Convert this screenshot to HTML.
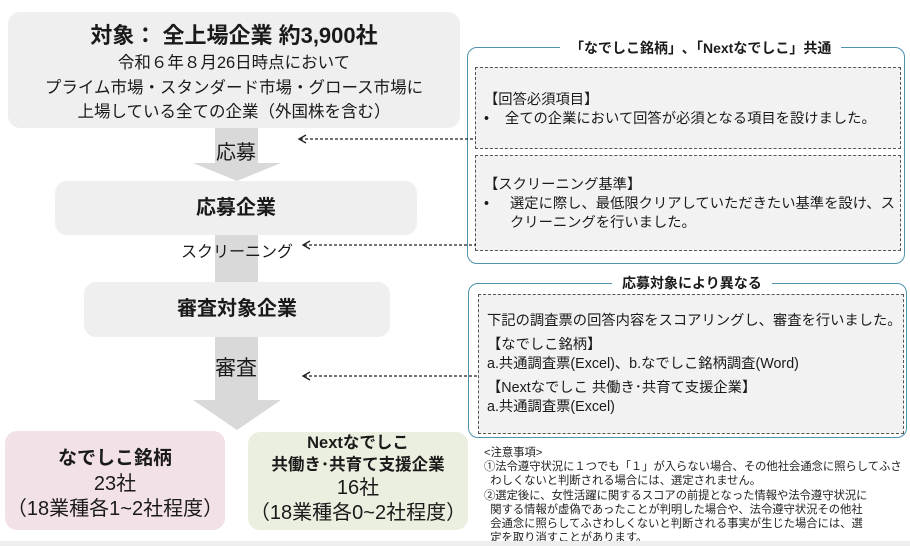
<!DOCTYPE html>
<html><head><meta charset="utf-8"><style>
body{margin:0;width:910px;height:546px;background:#fff;position:relative;overflow:hidden;font-family:"Liberation Sans","Noto Sans CJK JP",sans-serif;color:#1a1a1a}
.a{position:absolute}
.box{position:absolute;background:#efefef;border-radius:12px;text-align:center}
.c{text-align:center}
.dash{position:absolute;border:1px dashed #555;background:#f2f2f2}
.panel{position:absolute;border:1.5px solid #4f93ad;border-radius:10px}
.ttl{position:absolute;background:#fff;font-weight:bold;font-size:14px;padding:0 10px;white-space:nowrap}
.note{font-size:11.3px;line-height:14.2px;color:#222;white-space:nowrap}
</style></head><body>
<div class="a" style="left:215px;top:128px;width:43px;height:36px;background:#d9d9d9"></div>
<div class="a" style="left:193px;top:163px;width:0;height:0;border-left:44px solid transparent;border-right:44px solid transparent;border-top:18px solid #d9d9d9"></div>
<div class="a" style="left:215px;top:235px;width:43px;height:48px;background:#d9d9d9"></div>
<div class="a" style="left:215px;top:337px;width:43px;height:64px;background:#d9d9d9"></div>
<div class="a" style="left:193px;top:400px;width:0;height:0;border-left:44px solid transparent;border-right:44px solid transparent;border-top:30px solid #d9d9d9"></div>

<div class="box" style="left:8px;top:12px;width:452px;height:116px">
<div style="font-weight:bold;font-size:22px;margin-top:6px">対象： 全上場企業 約3,900社</div>
<div style="font-size:16.5px;line-height:24.5px;margin-top:1px">令和６年８月26日時点において<br>プライム市場・スタンダード市場・グロース市場に<br>上場している全ての企業（外国株を含む）</div>
</div>
<div class="a c" style="left:196px;top:136px;width:80px;font-size:20px">応募</div>
<div class="box" style="left:55px;top:181px;width:362px;height:54px;line-height:54px;font-weight:bold;font-size:20px">応募企業</div>
<div class="a c" style="left:170px;top:238px;width:134px;font-size:16px">スクリーニング</div>
<div class="box" style="left:84px;top:282px;width:306px;height:55px;line-height:55px;font-weight:bold;font-size:20px">審査対象企業</div>
<div class="a c" style="left:196px;top:352px;width:80px;font-size:21px">審査</div>

<div class="box" style="left:5px;top:431px;width:220px;height:99px;background:#f2e1e6">
<div style="font-weight:bold;font-size:19px;margin-top:12px">なでしこ銘柄</div>
<div style="font-size:20px;line-height:25px;margin-top:2px">23社<br>（18業種各1~2社程度）</div></div>
<div class="box" style="left:248px;top:432px;width:220px;height:98px;background:#ebefdf">
<div style="font-weight:bold;font-size:16.5px;line-height:22px;margin-top:0px">Nextなでしこ<br>共働き･共育て支援企業</div>
<div style="font-size:20px;line-height:25px">16社<br>（18業種各0~2社程度）</div></div>

<div class="panel" style="left:467px;top:47px;width:436px;height:215px"></div>
<div class="ttl" style="left:560px;top:38px">「なでしこ銘柄」､「Nextなでしこ」共通</div>
<div class="dash" style="left:475px;top:67px;width:424px;height:80px;font-size:14.3px;line-height:19px">
<div style="margin:23px 0 0 8px">【回答必須項目】<br>•&nbsp;&nbsp;&nbsp;&nbsp;全ての企業において回答が必須となる項目を設けました。</div></div>
<div class="dash" style="left:475px;top:155px;width:424px;height:94px;font-size:14.3px;line-height:19px">
<div style="margin:20px 0 0 8px">【スクリーニング基準】<br><div style="display:flex"><span style="width:26px;flex:none">•</span><span>選定に際し、最低限クリアしていただきたい基準を設け、スクリーニングを行いました。</span></div></div></div>

<div class="panel" style="left:468px;top:283px;width:437px;height:153px"></div>
<div class="ttl" style="left:612px;top:273px">応募対象により異なる</div>
<div class="dash" style="left:478px;top:294px;width:424px;height:138px;font-size:14.3px;line-height:19px">
<div style="margin:17px 0 0 8px">下記の調査票の回答内容をスコアリングし、審査を行いました。<div style="height:5px"></div>【なでしこ銘柄】<br>a.共通調査票(Excel)、b.なでしこ銘柄調査(Word)<div style="height:5px"></div>【Nextなでしこ 共働き･共育て支援企業】<br>a.共通調査票(Excel)</div></div>

<div class="a note" style="left:484px;top:446px">&lt;注意事項&gt;<br>①法令遵守状況に１つでも「１」が入らない場合、その他社会通念に照らしてふさ<br>&nbsp;&nbsp;わしくないと判断される場合には、選定されません。<br>②選定後に、女性活躍に関するスコアの前提となった情報や法令遵守状況に<br>&nbsp;&nbsp;関する情報が虚偽であったことが判明した場合や、法令遵守状況その他社<br>&nbsp;&nbsp;会通念に照らしてふさわしくないと判断される事実が生じた場合には、選<br>&nbsp;&nbsp;定を取り消すことがあります。</div>

<svg class="a" style="left:0;top:0" width="910" height="546">
<g stroke="#222" stroke-width="1.3" fill="none">
<line x1="300" y1="139" x2="476" y2="139" stroke-dasharray="3,2"/>
<polyline points="306,135 299,139 306,143"/>
<line x1="304" y1="245" x2="476" y2="245" stroke-dasharray="3,2"/>
<polyline points="310,241 303,245 310,249"/>
<line x1="304" y1="376" x2="479" y2="376" stroke-dasharray="3,2"/>
<polyline points="310,372 303,376 310,380"/>
</g></svg>
<div class="a" style="left:0;top:541px;width:910px;height:5px;background:#eee"></div>
</body></html>
